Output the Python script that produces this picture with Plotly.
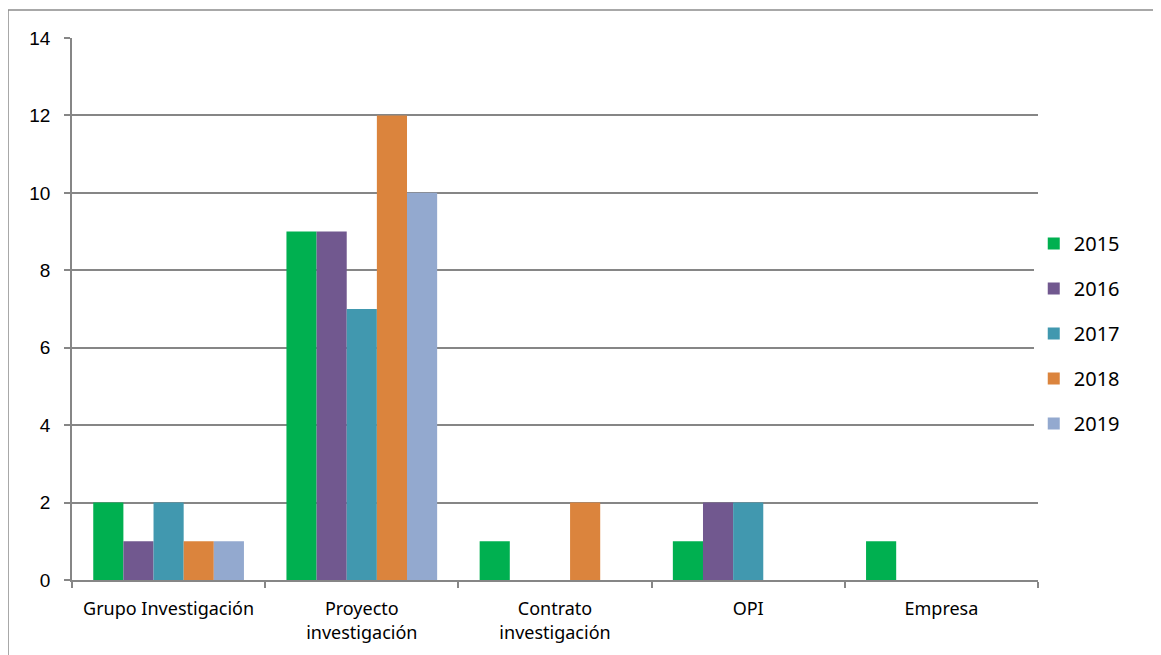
import plotly.graph_objects as go

categorias = ["Grupo Investigación", "Proyecto<br>investigación", "Contrato<br>investigación", "OPI", "Empresa"]
anios = ["2015", "2016", "2017", "2018", "2019"]
valores_2015 = [2, 9, 1, 1, 1]
valores_2016 = [1, 9, 0, 2, 0]
valores_2017 = [2, 7, 0, 2, 0]
valores_2018 = [1, 12, 2, 0, 0]
valores_2019 = [1, 10, 0, 0, 0]
colores = ["#00B050", "#71588F", "#4198AF", "#DB843D", "#93A9CF"]

series = [valores_2015, valores_2016, valores_2017, valores_2018, valores_2019]

fig = go.Figure()

for anio, valores, color in zip(anios, series, colores):
    fig.add_trace(go.Bar(
        x=categorias,
        y=valores,
        name=anio,
        legendgroup=anio,
        marker_color=color,
        marker_line_width=0,
    ))

# --- Layout ---
# la página tiene 8px de margen en el body, por eso la figura es 8px más pequeña
fig.update_layout(
    width=1153,
    height=647,
    template='plotly_white',
    plot_bgcolor='white',
    paper_bgcolor='white',
    barmode='group',
    bargap=0.22,
    bargroupgap=0,
    font=dict(family="Noto Sans, sans-serif", size=18, color="black"),
    margin=dict(l=64, r=123, t=30, b=75),
    legend=dict(
        x=0.9956, xanchor='left',
        y=0.455, yanchor='middle',
        font=dict(size=20, family="Noto Sans, sans-serif"),
        tracegroupgap=16,
        itemwidth=30,
    ),
    xaxis=dict(
        showgrid=False,
        showline=True, linecolor='#868686', linewidth=1.5,
        ticks='outside', tickcolor='#868686', ticklen=6, tickwidth=1.5,
        tickson='boundaries',
        tickfont=dict(size=18),
        tickangle=0,
        ticklabelstandoff=12,
    ),
    yaxis=dict(
        range=[0, 14],
        dtick=2,
        showgrid=True, gridcolor='#868686', gridwidth=1.5,
        showline=True, linecolor='#868686', linewidth=1.5,
        ticks='outside', tickcolor='#868686', ticklen=6, tickwidth=1.5,
        tickfont=dict(size=19, family="Liberation Sans, Arial, sans-serif"),
        zeroline=False,
        ticklabelstandoff=10,
    ),
    shapes=[dict(
        type='rect', xref='paper', yref='paper',
        x0=-64 / 966, x1=1.2, y0=-0.2, y1=(572 - 2) / 542,
        line=dict(color='#8C8C8C', width=1.5),
        fillcolor='rgba(0,0,0,0)', layer='below',
    )],
)

fig.write_html("out.html")
